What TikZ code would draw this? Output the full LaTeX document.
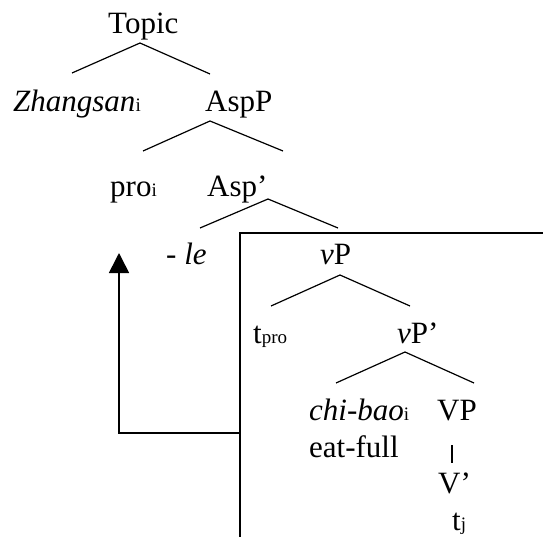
\documentclass[tikz,border=0pt]{standalone}
\usepackage{fontspec}
\setmainfont{Liberation Serif}
\usetikzlibrary{arrows.meta}
\newcommand\sbs[1]{{\fontsize{19}{19}\selectfont #1}}
\begin{document}
\begin{tikzpicture}[x=1pt,y=-1pt,
  lbl/.style={anchor=base west,inner sep=0pt,font=\fontsize{31}{36}\selectfont},
  branch/.style={line width=1.2pt},
  boxline/.style={line width=1.6pt},
  movearrow/.style={line width=1.6pt,-{Triangle[width=20pt,length=20pt]}}]
\useasboundingbox (0,0) rectangle (543,537);
% labels
\node[lbl] (topic) at (108,34) {Topic};
\node[lbl] (zhangsan) at (13,112) {\textit{Zhangsan}\sbs{i}};
\node[lbl] (aspp) at (205,112) {AspP};
\node[lbl] (pro) at (110,197) {pro\sbs{i}};
\node[lbl] (aspbar) at (207,197) {Asp’};
\node[lbl] (le) at (166,265) {\textit{- le}};
\node[lbl] (vp) at (320,265) {\textit{v}P};
\node[lbl] (tpro) at (253,343) {t\sbs{pro}};
\node[lbl] (vpbar) at (397,343) {\textit{v}P’};
\node[lbl] (chibao) at (309,420) {\textit{chi-bao}\sbs{i}};
\node[lbl] (eatfull) at (309,457) {eat-full};
\node[lbl] (VP) at (437,420) {VP};
\node[lbl] (Vbar) at (438,493) {V’};
\node[lbl] (tj) at (452,530) {t\sbs{j}};
% branch points
\coordinate (topic-s) at (140,43);
\coordinate (zhangsan-n) at (72,73);
\coordinate (aspp-n) at (210,74);
\coordinate (aspp-s) at (210,121);
\coordinate (pro-n) at (143,151);
\coordinate (aspbar-n) at (283,151);
\coordinate (aspbar-s) at (268,199);
\coordinate (le-n) at (200,228);
\coordinate (vp-n) at (338,228);
\coordinate (vp-s) at (340,275);
\coordinate (tpro-n) at (271,306);
\coordinate (vpbar-n) at (410,306);
\coordinate (vpbar-s) at (405,352);
\coordinate (chibao-n) at (336,383);
\coordinate (VP-n) at (474,383);
\coordinate (VP-s) at (452,445);
\coordinate (Vbar-n) at (452,463);
% tree branches
\draw[branch] (zhangsan-n) -- (topic-s) -- (aspp-n);
\draw[branch] (pro-n) -- (aspp-s) -- (aspbar-n);
\draw[branch] (le-n) -- (aspbar-s) -- (vp-n);
\draw[branch] (tpro-n) -- (vp-s) -- (vpbar-n);
\draw[branch] (chibao-n) -- (vpbar-s) -- (VP-n);
\draw[branch] (VP-s) -- (Vbar-n);
% box around vP
\coordinate (box-tr) at (543,233);
\coordinate (box-tl) at (240,233);
\coordinate (box-bl) at (240,537);
\draw[boxline] (box-tr) -- (box-tl) -- (box-bl);
% movement arrow
\coordinate (mv-start) at (240,433);
\coordinate (mv-corner) at (119,433);
\coordinate (mv-end) at (119,253);
\draw[movearrow] (mv-start) -- (mv-corner) -- (mv-end);
\end{tikzpicture}
\end{document}
